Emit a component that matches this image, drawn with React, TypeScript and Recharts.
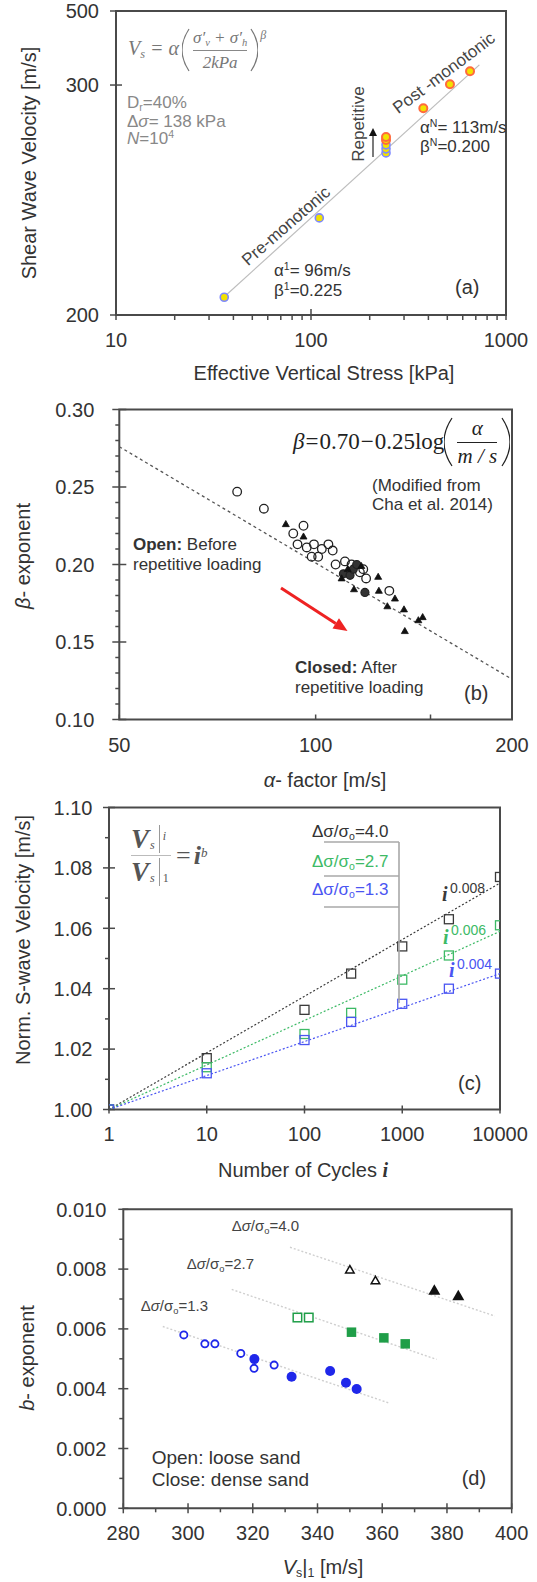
import React from "react";
import { ComposedChart, XAxis, YAxis, Scatter, Line, ReferenceArea } from "recharts";

const SANS = '"Liberation Sans", Arial, Helvetica, sans-serif';
const SERIF = '"Liberation Serif", "Times New Roman", Times, serif';
const INK = "#333";
const FRAME = "#4a4a4a";

// ---------- (a) shear wave velocity vs effective vertical stress ----------
const aPreStress = [35.9, 110.3, 242.5, 242.5, 242.5];
const aPreVs = [211, 268, 326, 330, 334];
const aPostStress = [242.5, 242.5, 376.7, 516, 654];
const aPostVs = [339, 342, 373, 401, 417];
const aFitStress = [35, 730];
const aFitVs = [210, 425];
const aXTicks = [10, 20, 30, 40, 50, 60, 70, 80, 90, 100, 200, 300, 400, 500, 600, 700, 800, 900, 1000];
const aXLabels = ["10", "", "", "", "", "", "", "", "", "100", "", "", "", "", "", "", "", "", "1000"];
const aYTicks = [200, 400, 500];
const aYLabels = ["200", "300", "500"];

// ---------- (b) beta exponent vs alpha factor ----------
const bOpenAlpha = [75.8, 83.3, 95.8, 92.4, 93.8, 96.9, 99.4, 102.2, 104.6, 106.2, 98.6, 100.9, 107.3, 110.9, 113.5, 116.9, 118.3, 119.5, 129.7];
const bOpenBeta = [0.247, 0.236, 0.225, 0.22, 0.213, 0.211, 0.213, 0.21, 0.213, 0.209, 0.205, 0.205, 0.2, 0.202, 0.2, 0.195, 0.197, 0.191, 0.183];
const bClosedCircAlpha = [110.3, 112.9, 114.2, 115.6, 119.0];
const bClosedCircBeta = [0.194, 0.193, 0.197, 0.2, 0.182];
const bClosedTriAlpha = [90.0, 95.8, 109.6, 112.0, 114.5, 117.5, 124.7, 125.0, 128.8, 132.3, 136.6, 137.0, 143.7, 145.9];
const bClosedTriBeta = [0.226, 0.218, 0.191, 0.197, 0.184, 0.199, 0.192, 0.183, 0.173, 0.178, 0.171, 0.157, 0.164, 0.166];
const bFitAlpha = [50, 200];
const bFitBeta = [0.276, 0.126];
const bXTicks = [50, 100, 150, 200];
const bXLabels = ["50", "100", "", "200"];
const bYTicks = [0.1, 0.11, 0.12, 0.13, 0.14, 0.15, 0.16, 0.17, 0.18, 0.19, 0.2, 0.21, 0.22, 0.23, 0.24, 0.25, 0.26, 0.27, 0.28, 0.29, 0.3];
const bYLabels = ["0.10", "", "", "", "", "0.15", "", "", "", "", "0.20", "", "", "", "", "0.25", "", "", "", "", "0.30"];

// ---------- (c) normalised Vs vs number of cycles ----------
const cCycles = [1, 10, 100, 300, 1000, 3000, 10000];
const cNorm40 = [1.0, 1.017, 1.033, 1.045, 1.054, 1.063, 1.077];
const cNorm27 = [1.0, 1.014, 1.025, 1.032, 1.043, 1.051, 1.061];
const cNorm13 = [1.0, 1.012, 1.023, 1.029, 1.035, 1.04, 1.045];
const cFitCycles = [1, 10000];
const cFit40 = [1.0, 1.075];
const cFit27 = [1.0, 1.059];
const cFit13 = [1.0, 1.045];
const cXTicks = [1, 10, 100, 1000, 10000];
const cXLabels = ["1", "10", "100", "1000", "10000"];
const cYTicks = [1.0, 1.01, 1.02, 1.03, 1.04, 1.05, 1.06, 1.07, 1.08, 1.09, 1.1];
const cYLabels = ["1.00", "", "1.02", "", "1.04", "", "1.06", "", "1.08", "", "1.10"];

// ---------- (d) b exponent vs Vs|1 ----------
const dLooseVs13 = [298.7, 305.2, 308.3, 316.3, 320.4, 326.6];
const dLooseB13 = [0.0058, 0.0055, 0.0055, 0.00518, 0.00468, 0.00479];
const dDenseVs13 = [320.5, 332.0, 343.9, 348.8, 352.1];
const dDenseB13 = [0.00499, 0.0044, 0.00459, 0.0042, 0.00399];
const dLooseVs27 = [333.8, 337.3];
const dLooseB27 = [0.00638, 0.00638];
const dDenseVs27 = [350.5, 360.5, 367.1];
const dDenseB27 = [0.00589, 0.0057, 0.0055];
const dLooseVs40 = [350.0, 357.9];
const dLooseB40 = [0.00797, 0.00761];
const dDenseVs40 = [376.1, 383.5];
const dDenseB40 = [0.00728, 0.0071];
const dFitVs40 = [331.5, 394.8];
const dFitB40 = [0.00873, 0.00643];
const dFitVs27 = [313.5, 376.8];
const dFitB27 = [0.00732, 0.00498];
const dFitVs13 = [292.2, 362.4];
const dFitB13 = [0.00608, 0.00351];
const dXTicks = [280, 290, 300, 310, 320, 330, 340, 350, 360, 370, 380, 390, 400];
const dXLabels = ["280", "", "300", "", "320", "", "340", "", "360", "", "380", "", "400"];
const dYTicks = [0, 0.001, 0.002, 0.003, 0.004, 0.005, 0.006, 0.007, 0.008, 0.009, 0.01];
const dYLabels = ["0.000", "", "0.002", "", "0.004", "", "0.006", "", "0.008", "", "0.010"];

const pts = (xs: number[], ys: number[]) => xs.map((x, i) => ({ x, y: ys[i] }));

type TickLen = { majIn: number; majOut: number; minIn: number; minOut: number };

function tickRenderer(side: "left" | "bottom", values: number[], labels: string[], len: TickLen, gap: number) {
  return (props: any) => {
    const { x, y, payload } = props;
    const idx = values.findIndex((v) => Math.abs(v - payload.value) < 1e-9);
    const label = idx >= 0 ? labels[idx] : "";
    const tin = label ? len.majIn : len.minIn;
    const tout = label ? len.majOut : len.minOut;
    if (side === "bottom") {
      return (
        <g>
          <line x1={x} x2={x} y1={y - tin} y2={y + tout} stroke={FRAME} strokeWidth={1.5} />
          {label && (
            <text x={x} y={y + gap} dy="0.72em" textAnchor="middle" fontSize={20} fontFamily={SANS} fill={INK}>
              {label}
            </text>
          )}
        </g>
      );
    }
    return (
      <g>
        <line x1={x - tout} x2={x + tin} y1={y} y2={y} stroke={FRAME} strokeWidth={1.5} />
        {label && (
          <text x={x - gap} y={y} dy="0.36em" textAnchor="end" fontSize={20} fontFamily={SANS} fill={INK}>
            {label}
          </text>
        )}
      </g>
    );
  };
}

const ring = (r: number, stroke: string, fill: string, sw: number) => (p: any) =>
  <circle cx={p.cx} cy={p.cy} r={r} fill={fill} stroke={stroke} strokeWidth={sw} />;
const square = (s: number, stroke: string, fill: string, sw: number) => (p: any) =>
  <rect x={p.cx - s / 2} y={p.cy - s / 2} width={s} height={s} fill={fill} stroke={stroke} strokeWidth={sw} />;
const tri = (s: number, stroke: string, fill: string, sw: number) => (p: any) => {
  const h = s * 0.87;
  return (
    <polygon
      points={`${p.cx},${p.cy - h * 0.6} ${p.cx - s / 2},${p.cy + h * 0.4} ${p.cx + s / 2},${p.cy + h * 0.4}`}
      fill={fill}
      stroke={stroke}
      strokeWidth={sw}
      strokeLinejoin="miter"
    />
  );
};

const SUB = { fontSize: "0.62em", verticalAlign: "-0.25em" } as const;
const SUP = { fontSize: "0.62em", verticalAlign: "0.6em" } as const;

function Txt({ x, y, size = 17, color = INK, rotate = 0, center = false, serif = false, children, style }: any) {
  return (
    <div
      style={{
        position: "absolute",
        left: x,
        top: y,
        fontSize: size,
        color,
        lineHeight: 1,
        whiteSpace: "nowrap",
        fontFamily: serif ? SERIF : SANS,
        transform: `translate(${center ? "-50%" : "0"}, -50%) rotate(${rotate}deg)`,
        transformOrigin: "50% 50%",
        ...style,
      }}
    >
      {children}
    </div>
  );
}

function Paren({ h, w = 8, close = false, color = "#777", sw = 1.2 }: any) {
  const d = close ? `M1 1 Q${w * 2 - 1} ${h / 2} 1 ${h - 1}` : `M${w - 1} 1 Q${1 - w} ${h / 2} ${w - 1} ${h - 1}`;
  return (
    <svg width={w} height={h} style={{ display: "block" }}>
      <path d={d} stroke={color} strokeWidth={sw} fill="none" />
    </svg>
  );
}

function ChartA() {
  return (
    <div style={{ position: "absolute", left: 0, top: 0 }}>
      <ComposedChart width={537} height={395} margin={{ top: 11, right: 31, bottom: 0, left: 0 }}>
        <XAxis dataKey="x" type="number" scale="log" domain={[10, 1000]} allowDataOverflow ticks={aXTicks} interval={0}
          height={80} tickSize={0} tickMargin={0} tickLine={false} axisLine={false}
          tick={tickRenderer("bottom", aXTicks, aXLabels, { majIn: 6, majOut: 5, minIn: 0, minOut: 5 }, 18)} />
        <YAxis dataKey="y" type="number" scale="log" domain={[200, 500]} allowDataOverflow ticks={aYTicks} interval={0}
          width={116} tickSize={0} tickMargin={0} tickLine={false} axisLine={false}
          tick={tickRenderer("left", aYTicks, aYLabels, { majIn: 6, majOut: 6, minIn: 0, minOut: 0 }, 17)} />
        <ReferenceArea x1={10} x2={1000} y1={200} y2={500} fill="none" fillOpacity={0} stroke={FRAME} strokeWidth={2} ifOverflow="visible" />
        <Line data={pts(aFitStress, aFitVs)} dataKey="y" stroke="#bdbdbd" strokeWidth={1.2} dot={false} isAnimationActive={false} />
        <Scatter data={pts(aPreStress, aPreVs)} shape={ring(4, "#7d88ff", "#f2e200", 1.6)} isAnimationActive={false} />
        <Scatter data={pts(aPostStress, aPostVs)} shape={ring(4, "#ff6a3d", "#f2e200", 2)} isAnimationActive={false} />
      </ComposedChart>
    </div>
  );
}

function ChartB() {
  return (
    <div style={{ position: "absolute", left: 0, top: 395 }}>
      <ComposedChart width={537} height={400} margin={{ top: 14.5, right: 25, bottom: 0, left: 0 }}>
        <XAxis dataKey="x" type="number" scale="log" domain={[50, 200]} allowDataOverflow ticks={bXTicks} interval={0}
          height={75.5} tickSize={0} tickMargin={0} tickLine={false} axisLine={false}
          tick={tickRenderer("bottom", bXTicks, bXLabels, { majIn: 5, majOut: 0, minIn: 5, minOut: 0 }, 18.5)} />
        <YAxis dataKey="y" type="number" domain={[0.1, 0.3]} allowDataOverflow ticks={bYTicks} interval={0}
          width={119.3} tickSize={0} tickMargin={0} tickLine={false} axisLine={false}
          tick={tickRenderer("left", bYTicks, bYLabels, { majIn: 7, majOut: 7, minIn: 0, minOut: 4 }, 25)} />
        <ReferenceArea x1={50} x2={200} y1={0.1} y2={0.3} fill="none" fillOpacity={0} stroke={FRAME} strokeWidth={2} ifOverflow="visible" />
        <Line data={pts(bFitAlpha, bFitBeta)} dataKey="y" stroke="#555" strokeWidth={1.3} strokeDasharray="3 3" dot={false} isAnimationActive={false} />
        <Scatter data={pts(bOpenAlpha, bOpenBeta)} shape={ring(4.3, "#222", "none", 1.3)} isAnimationActive={false} />
        <Scatter data={pts(bClosedCircAlpha, bClosedCircBeta)} shape={ring(4, "#222", "#333", 1.2)} isAnimationActive={false} />
        <Scatter data={pts(bClosedTriAlpha, bClosedTriBeta)} shape={tri(7, "#111", "#111", 0.8)} isAnimationActive={false} />
      </ComposedChart>
    </div>
  );
}

const C_BLACK = "#3a3a3a";
const C_GREEN = "#3dba66";
const C_BLUE = "#4a55f2";

function ChartC() {
  return (
    <div style={{ position: "absolute", left: 0, top: 795 }}>
      <ComposedChart width={537} height={390} margin={{ top: 12.5, right: 37, bottom: 0, left: 0 }}>
        <XAxis dataKey="x" type="number" scale="log" domain={[1, 10000]} allowDataOverflow ticks={cXTicks} interval={0}
          height={75.5} tickSize={0} tickMargin={0} tickLine={false} axisLine={false}
          tick={tickRenderer("bottom", cXTicks, cXLabels, { majIn: 4, majOut: 4, minIn: 0, minOut: 0 }, 17)} />
        <YAxis dataKey="y" type="number" domain={[1.0, 1.1]} allowDataOverflow ticks={cYTicks} interval={0}
          width={109} tickSize={0} tickMargin={0} tickLine={false} axisLine={false}
          tick={tickRenderer("left", cYTicks, cYLabels, { majIn: 6, majOut: 6, minIn: 0, minOut: 4 }, 16.5)} />
        <ReferenceArea x1={1} x2={10000} y1={1.0} y2={1.1} fill="none" fillOpacity={0} stroke={FRAME} strokeWidth={2} ifOverflow="visible" />
        <Line data={pts(cFitCycles, cFit40)} dataKey="y" stroke={C_BLACK} strokeWidth={1.2} strokeDasharray="2 2" dot={false} isAnimationActive={false} />
        <Line data={pts(cFitCycles, cFit27)} dataKey="y" stroke={C_GREEN} strokeWidth={1.2} strokeDasharray="2 2" dot={false} isAnimationActive={false} />
        <Line data={pts(cFitCycles, cFit13)} dataKey="y" stroke={C_BLUE} strokeWidth={1.2} strokeDasharray="2 2" dot={false} isAnimationActive={false} />
        <Scatter data={pts(cCycles, cNorm40)} shape={square(9, C_BLACK, "none", 1.3)} isAnimationActive={false} />
        <Scatter data={pts(cCycles, cNorm27)} shape={square(9, C_GREEN, "none", 1.3)} isAnimationActive={false} />
        <Scatter data={pts(cCycles, cNorm13)} shape={square(9, C_BLUE, "none", 1.3)} isAnimationActive={false} />
      </ComposedChart>
    </div>
  );
}

const D_BLUE = "#1f27ea";
const D_GREEN = "#1f9e48";
const D_BLACK = "#111";

function ChartD() {
  return (
    <div style={{ position: "absolute", left: 0, top: 1190 }}>
      <ComposedChart width={537} height={392} margin={{ top: 19.3, right: 25.3, bottom: 0, left: 0 }}>
        <XAxis dataKey="x" type="number" domain={[280, 400]} allowDataOverflow ticks={dXTicks} interval={0}
          height={73.7} tickSize={0} tickMargin={0} tickLine={false} axisLine={false}
          tick={tickRenderer("bottom", dXTicks, dXLabels, { majIn: 5, majOut: 5, minIn: 0, minOut: 4 }, 17.7)} />
        <YAxis dataKey="y" type="number" domain={[0, 0.01]} allowDataOverflow ticks={dYTicks} interval={0}
          width={123.3} tickSize={0} tickMargin={0} tickLine={false} axisLine={false}
          tick={tickRenderer("left", dYTicks, dYLabels, { majIn: 5, majOut: 5, minIn: 0, minOut: 4 }, 17)} />
        <ReferenceArea x1={280} x2={400} y1={0} y2={0.01} fill="none" fillOpacity={0} stroke={FRAME} strokeWidth={2} ifOverflow="visible" />
        <Line data={pts(dFitVs40, dFitB40)} dataKey="y" stroke="#cfcfcf" strokeWidth={1.4} strokeDasharray="2 2" dot={false} isAnimationActive={false} />
        <Line data={pts(dFitVs27, dFitB27)} dataKey="y" stroke="#cfcfcf" strokeWidth={1.4} strokeDasharray="2 2" dot={false} isAnimationActive={false} />
        <Line data={pts(dFitVs13, dFitB13)} dataKey="y" stroke="#cfcfcf" strokeWidth={1.4} strokeDasharray="2 2" dot={false} isAnimationActive={false} />
        <Scatter data={pts(dLooseVs13, dLooseB13)} shape={ring(3.6, D_BLUE, "#fff", 1.8)} isAnimationActive={false} />
        <Scatter data={pts(dDenseVs13, dDenseB13)} shape={ring(5, D_BLUE, D_BLUE, 0)} isAnimationActive={false} />
        <Scatter data={pts(dLooseVs27, dLooseB27)} shape={square(8.5, D_GREEN, "#fff", 1.5)} isAnimationActive={false} />
        <Scatter data={pts(dDenseVs27, dDenseB27)} shape={square(9.5, D_GREEN, D_GREEN, 0)} isAnimationActive={false} />
        <Scatter data={pts(dLooseVs40, dLooseB40)} shape={tri(8.5, D_BLACK, "#fff", 1.5)} isAnimationActive={false} />
        <Scatter data={pts(dDenseVs40, dDenseB40)} shape={tri(12, D_BLACK, D_BLACK, 0)} isAnimationActive={false} />
      </ComposedChart>
    </div>
  );
}

function arrowHead(x1: number, y1: number, x2: number, y2: number, len: number, half: number) {
  const dx = x2 - x1;
  const dy = y2 - y1;
  const l = Math.hypot(dx, dy);
  const ux = dx / l;
  const uy = dy / l;
  const bx = x2 - ux * len;
  const by = y2 - uy * len;
  return { base: [bx, by], points: `${x2},${y2} ${bx - uy * half},${by + ux * half} ${bx + uy * half},${by - ux * half}` };
}

function Overlay() {
  const rep = arrowHead(373, 157, 373, 128, 8, 4);
  const red = arrowHead(281, 588, 347.5, 631, 14, 6);
  return (
    <svg width={537} height={1582} style={{ position: "absolute", left: 0, top: 0, pointerEvents: "none" }}>
      <line x1={373} y1={157} x2={rep.base[0]} y2={rep.base[1]} stroke="#222" strokeWidth={1.2} />
      <polygon points={rep.points} fill="#111" />
      <line x1={281} y1={588} x2={red.base[0]} y2={red.base[1]} stroke="#ee2222" strokeWidth={3} />
      <polygon points={red.points} fill="#ee2222" />
      <g stroke="#a8a8a8" strokeWidth={1.6}>
        <line x1={324} y1={842} x2={399} y2={842} />
        <line x1={324} y1={876} x2={399} y2={876} />
        <line x1={324} y1={907} x2={399} y2={907} />
        <line x1={399} y1={842} x2={399} y2={1003} />
      </g>
    </svg>
  );
}

function VsBar({ sub }: { sub: string }) {
  return (
    <div style={{ display: "flex", alignItems: "stretch", height: 28 }}>
      <span style={{ fontSize: 27, fontStyle: "italic", fontWeight: "bold", lineHeight: "28px" }}>V</span>
      <span style={{ fontSize: 12, fontStyle: "italic", alignSelf: "flex-end", marginLeft: 1 }}>s</span>
      <span
        style={{
          borderLeft: "1.2px solid #999",
          marginLeft: 4,
          paddingLeft: 3,
          fontSize: 12,
          fontStyle: sub === "i" ? "italic" : "normal",
          display: "flex",
          alignItems: sub === "i" ? "flex-start" : "flex-end",
          paddingTop: sub === "i" ? 4 : 0,
        }}
      >
        {sub}
      </span>
    </div>
  );
}

export default function App() {
  return (
    <div
      style={{
        position: "absolute",
        left: 0,
        top: 0,
        width: 537,
        height: 1582,
        background: "#fff",
        overflow: "hidden",
        fontFamily: SANS,
        color: INK,
      }}
    >
      <ChartA />
      <ChartB />
      <ChartC />
      <ChartD />
      <Overlay />

      {/* ---- panel (a) ---- */}
      <Txt x={29} y={163} size={20} rotate={-90} center>Shear Wave Velocity [m/s]</Txt>
      <Txt x={324} y={373} size={20} center>Effective Vertical Stress [kPa]</Txt>
      <div style={{ position: "absolute", left: 128, top: 28, height: 44, display: "flex", alignItems: "center", fontFamily: SERIF, fontStyle: "italic", color: "#777", fontSize: 20, whiteSpace: "nowrap" }}>
        <span>V<span style={SUB}>s</span>&nbsp;=&nbsp;α</span>
        <span style={{ marginLeft: 3 }}><Paren h={44} /></span>
        <div style={{ display: "flex", flexDirection: "column", alignItems: "center", fontSize: 17, margin: "0 3px" }}>
          <span>σ′<span style={SUB}>v</span> + σ′<span style={SUB}>h</span></span>
          <div style={{ borderTop: "1px solid #888", width: "100%", margin: "2px 0" }} />
          <span>2kPa</span>
        </div>
        <Paren h={44} close />
        <span style={{ alignSelf: "flex-start", fontSize: 12, marginLeft: 2 }}>β</span>
      </div>
      <Txt x={127} y={103} color="#888">D<span style={SUB}>r</span>=40%</Txt>
      <Txt x={127} y={121} color="#888">Δ<i>σ</i>= 138 kPa</Txt>
      <Txt x={127} y={138} color="#888"><i>N</i>=10<span style={SUP}>4</span></Txt>
      <Txt x={286} y={226} rotate={-41} center color="#444">Pre-monotonic</Txt>
      <Txt x={444} y={73} rotate={-37} center color="#444">Post -monotonic</Txt>
      <Txt x={358} y={124} rotate={-90} center color="#444">Repetitive</Txt>
      <Txt x={420} y={127} color="#333">α<span style={SUP}>N</span>= 113m/s</Txt>
      <Txt x={420} y={146} color="#333">β<span style={SUP}>N</span>=0.200</Txt>
      <Txt x={274} y={270} color="#333">α<span style={SUP}>1</span>= 96m/s</Txt>
      <Txt x={274} y={290} color="#333">β<span style={SUP}>1</span>=0.225</Txt>
      <Txt x={455} y={287} size={20}>(a)</Txt>

      {/* ---- panel (b) ---- */}
      <Txt x={23} y={556} size={20} rotate={-90} center><i>β</i>- exponent</Txt>
      <Txt x={325} y={780} size={20} center><i>α</i>- factor [m/s]</Txt>
      <div style={{ position: "absolute", left: 293, top: 417, height: 50, display: "flex", alignItems: "center", fontFamily: SERIF, fontSize: 23, color: "#222", whiteSpace: "nowrap" }}>
        <i>β</i>
        <span style={{ margin: "0 1px" }}>=</span>
        <span>0.70</span>
        <span style={{ margin: "0 1px" }}>−</span>
        <span>0.25log</span>
        <Paren h={50} w={9} color="#222" />
        <div style={{ display: "flex", flexDirection: "column", alignItems: "center", fontSize: 21, margin: "0 4px", lineHeight: 1.05 }}>
          <i>α</i>
          <div style={{ borderTop: "1.2px solid #222", width: 40, margin: "2px 0" }} />
          <i>m / s</i>
        </div>
        <Paren h={50} w={9} close color="#222" />
      </div>
      <Txt x={372} y={485}>(Modified from</Txt>
      <Txt x={372} y={504}>Cha et al. 2014)</Txt>
      <Txt x={133} y={544}><b>Open:</b> Before</Txt>
      <Txt x={133} y={564}>repetitive loading</Txt>
      <Txt x={295} y={667}><b>Closed:</b> After</Txt>
      <Txt x={295} y={687}>repetitive loading</Txt>
      <Txt x={464} y={693} size={20}>(b)</Txt>

      {/* ---- panel (c) ---- */}
      <Txt x={23} y={940} size={20} rotate={-90} center>Norm. S-wave Velocity [m/s]</Txt>
      <Txt x={303} y={1170} size={20} center>Number of Cycles <b><i style={{ fontFamily: SERIF }}>i</i></b></Txt>
      <div style={{ position: "absolute", left: 131, top: 825, display: "flex", alignItems: "center", fontFamily: SERIF, color: "#555", whiteSpace: "nowrap" }}>
        <div style={{ display: "flex", flexDirection: "column", alignItems: "flex-start" }}>
          <VsBar sub="i" />
          <div style={{ width: 40, borderTop: "1.5px solid #bbb", margin: "2px 0" }} />
          <VsBar sub="1" />
        </div>
        <span style={{ fontSize: 26, marginLeft: 5 }}>=</span>
        <span style={{ fontSize: 26, marginLeft: 3, fontWeight: "bold", fontStyle: "italic" }}>i</span>
        <span style={{ fontSize: 13, fontStyle: "italic", alignSelf: "flex-start", marginTop: 20 }}>b</span>
      </div>
      <Txt x={312} y={832} color="#333">Δσ/σ<span style={SUB}>o</span>=4.0</Txt>
      <Txt x={312} y={862} color={C_GREEN}>Δσ/σ<span style={SUB}>o</span>=2.7</Txt>
      <Txt x={312} y={890} color={C_BLUE}>Δσ/σ<span style={SUB}>o</span>=1.3</Txt>
      <Txt x={442} y={894} size={20} serif color={C_BLACK}><b><i>i</i></b></Txt>
      <Txt x={450} y={888} size={14} color={C_BLACK}>0.008</Txt>
      <Txt x={443} y={937} size={20} serif color={C_GREEN}><b><i>i</i></b></Txt>
      <Txt x={451} y={930} size={14} color={C_GREEN}>0.006</Txt>
      <Txt x={449} y={970} size={20} serif color={C_BLUE}><b><i>i</i></b></Txt>
      <Txt x={457} y={964} size={14} color={C_BLUE}>0.004</Txt>
      <Txt x={458} y={1083} size={20}>(c)</Txt>

      {/* ---- panel (d) ---- */}
      <Txt x={26.5} y={1358} size={20} rotate={-90} center><i>b</i>- exponent</Txt>
      <Txt x={323} y={1568} size={20} center><i>V</i><span style={SUB}>s</span>|<span style={SUB}>1</span> [m/s]</Txt>
      <Txt x={231.7} y={1227} size={15} color="#444">Δ<i>σ</i>/σ<span style={SUB}>o</span>=4.0</Txt>
      <Txt x={186.7} y={1265} size={15} color="#444">Δ<i>σ</i>/σ<span style={SUB}>o</span>=2.7</Txt>
      <Txt x={140.7} y={1307} size={15} color="#444">Δ<i>σ</i>/σ<span style={SUB}>o</span>=1.3</Txt>
      <Txt x={151.7} y={1457} size={19}>Open: loose sand</Txt>
      <Txt x={151.7} y={1479} size={19}>Close: dense sand</Txt>
      <Txt x={461.7} y={1478} size={20}>(d)</Txt>
    </div>
  );
}
